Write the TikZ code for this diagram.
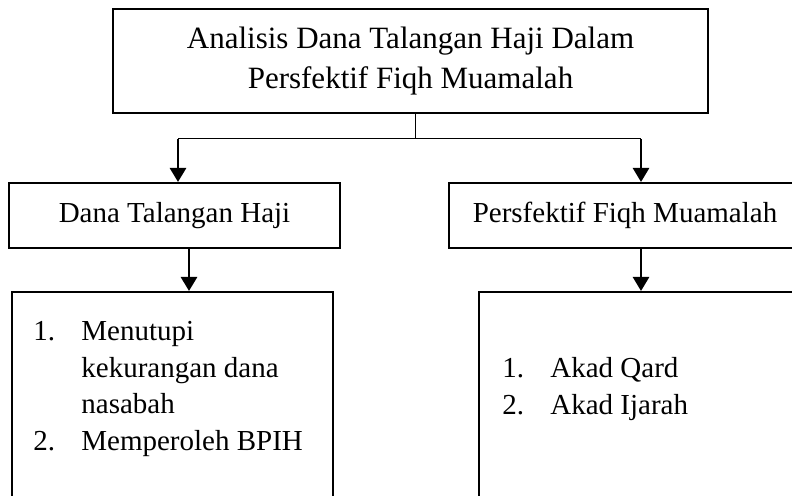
\documentclass[tikz,border=0pt]{standalone}
\usepackage{fontspec}
\setmainfont{Liberation Serif}
\usepackage{tikz}
\usetikzlibrary{arrows.meta}
\usetikzlibrary{positioning}
\newcommand{\butir}[1]{\makebox[24pt][l]{#1}}

\begin{document}
\begin{tikzpicture}[x=0.5pt, y=-0.5pt,
	kotak/.style={draw, line width=1pt, inner sep=0pt},
	teks/.style={font=\fontsize{14.5pt}{20pt}\selectfont, align=center},
	judulfont/.style={font=\fontsize{15.5pt}{20pt}\selectfont, align=center},
	daftar/.style={font=\fontsize{14.5pt}{18.3pt}\selectfont, align=left, inner sep=0pt, anchor=north west},
	garis/.style={line width=0.5pt},
	panah/.style={line width=1.3pt, -{Triangle[length=7pt, width=8pt]}}]

		\fill[white] (0, 0) rectangle (792, 496);
		\useasboundingbox (0, 0) rectangle (792, 496);
		\clip (0, 0) rectangle (792, 496);

		\node[kotak, judulfont, minimum width=297.5pt, minimum height=52pt] (judul) at (410.5, 61) {Analisis Dana Talangan Haji Dalam\\Persfektif Fiqh Muamalah};

		\node[kotak, teks, minimum width=165.5pt, minimum height=32.5pt] (dana) at (174.5, 215.5) {Dana Talangan Haji};
		\node[kotak, teks, minimum width=176pt, minimum height=32.5pt] (fiqh) at (625, 215.5) {Persfektif Fiqh Muamalah};

		\node[kotak, minimum width=160.5pt, minimum height=119pt] (isidana) at (172.5, 411) {};
		\node[kotak, minimum width=170.5pt, minimum height=119pt] (isifiqh) at (649.5, 411) {};

		\node[daftar] (daftardana) at (33, 321) {\butir{1.}Menutupi\\\hspace*{24pt}kekurangan dana\\\hspace*{24pt}nasabah\\\butir{2.}Memperoleh BPIH};
		\node[daftar] (daftarfiqh) at (502, 357) {\butir{1.}Akad Qard\\\butir{2.}Akad Ijarah};

		\coordinate (tengah) at (415, 139);
		\coordinate (sumbukiri) at (178, 0);
		\coordinate (sumbukiri2) at (189, 0);
		\coordinate (sumbukanan) at (641, 0);

		\path[draw, garis] (judul.south -| tengah) -- (tengah);
		\path[draw, garis] (tengah) -- (tengah -| sumbukiri);
		\path[draw, garis] (tengah) -- (tengah -| sumbukanan);
		\path[draw, panah] (tengah -| sumbukiri) -- (dana.north -| sumbukiri);
		\path[draw, panah] (tengah -| sumbukanan) -- (fiqh.north -| sumbukanan);
		\path[draw, panah] (dana.south -| sumbukiri2) -- (isidana.north -| sumbukiri2);
		\path[draw, panah] (fiqh.south -| sumbukanan) -- (isifiqh.north -| sumbukanan);
\end{tikzpicture}
\end{document}
